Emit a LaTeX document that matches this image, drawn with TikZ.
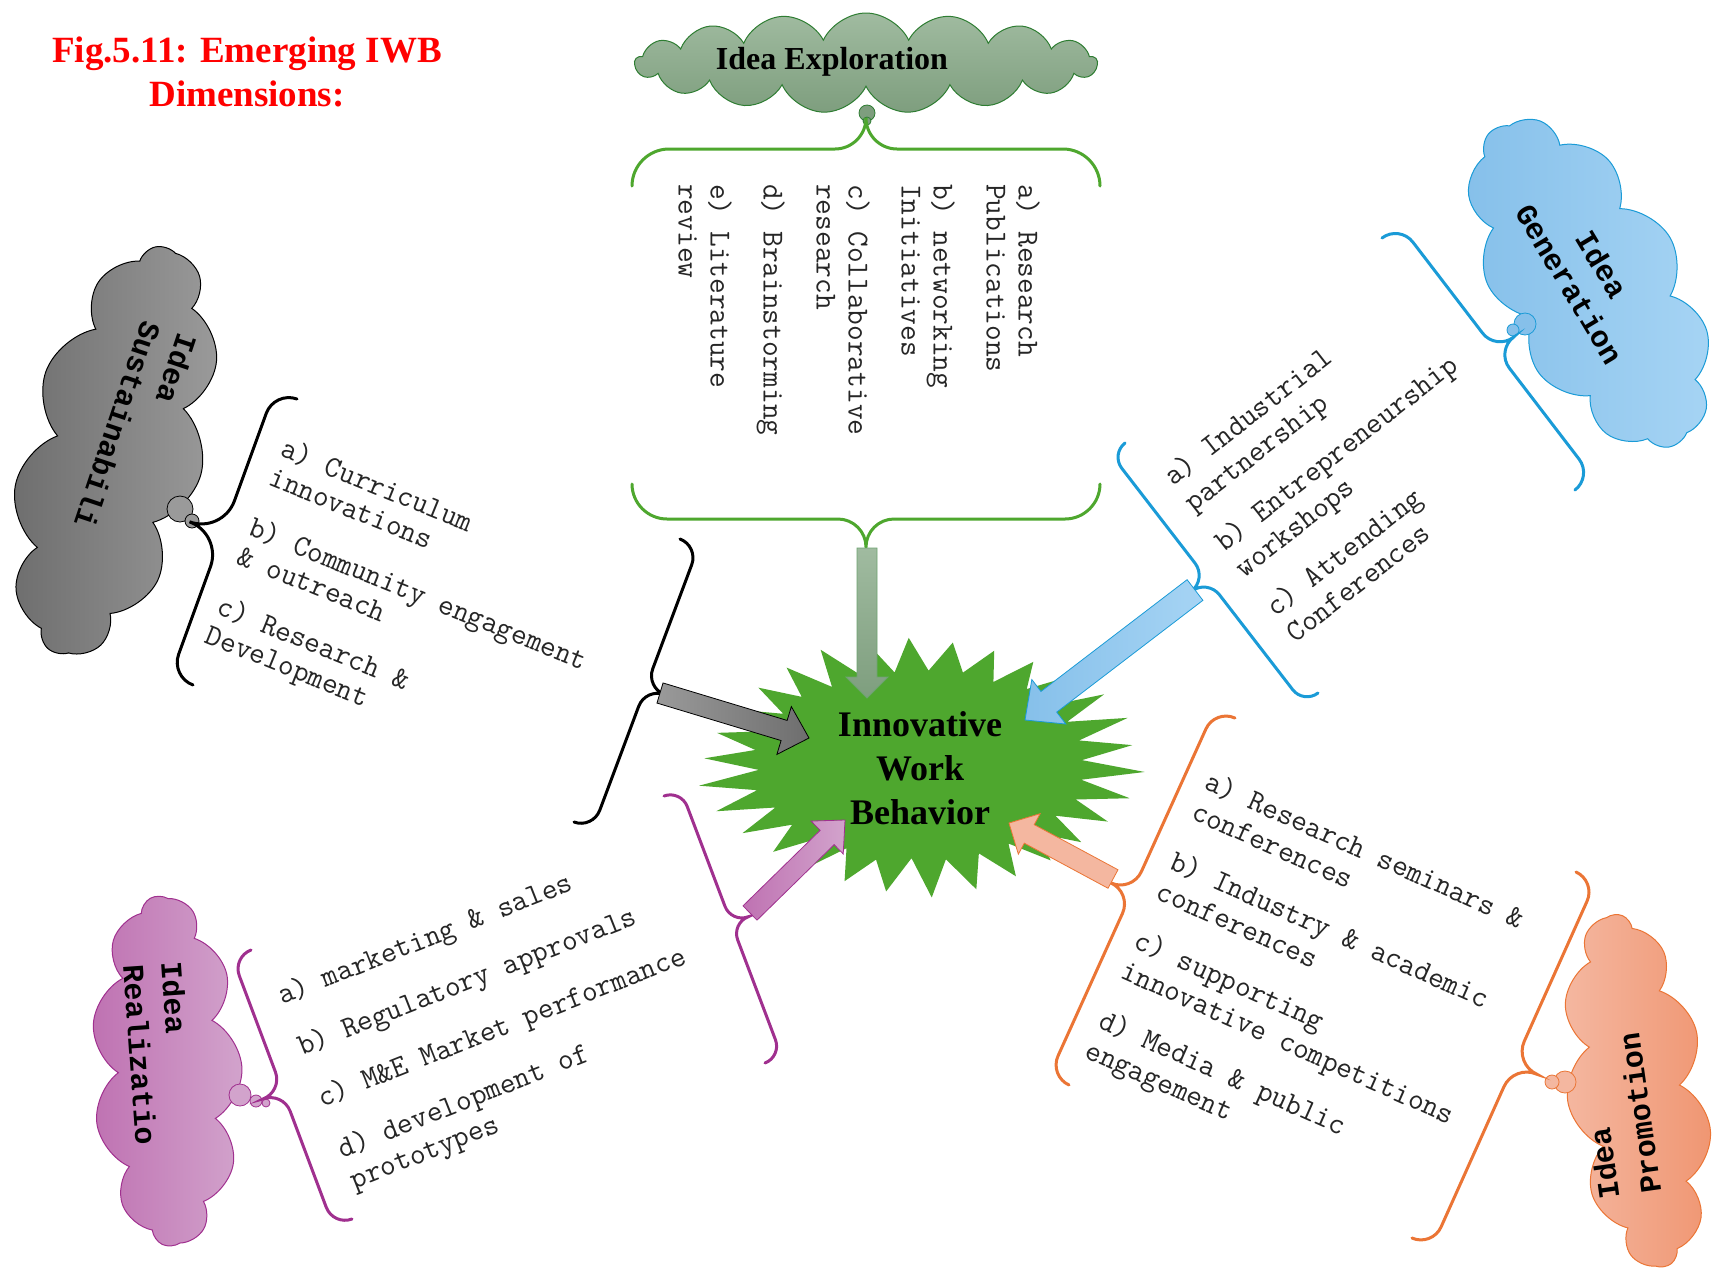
\documentclass[tikz,border=0pt]{standalone}
\usepackage{fontspec}
\setmainfont{Liberation Serif}
\newfontfamily\courb{Liberation Mono}
\usetikzlibrary{calc,shapes.symbols}

\definecolor{brgreen}{HTML}{4EA72E}
\definecolor{cldgreenA}{HTML}{A0BBA0}
\definecolor{cldgreenB}{HTML}{7E9E7E}
\definecolor{cldgreenD}{HTML}{2E7D32}
\definecolor{bluel}{HTML}{1A9BD7}
\definecolor{blueA}{HTML}{86C0EA}
\definecolor{blueB}{HTML}{A6D4F4}
\definecolor{purp}{HTML}{A0308F}
\definecolor{purpA}{HTML}{BF72B2}
\definecolor{purpB}{HTML}{D2A3CC}
\definecolor{orng}{HTML}{EB7535}
\definecolor{orngA}{HTML}{F4B7A0}
\definecolor{orngB}{HTML}{F09672}
\definecolor{grayA}{HTML}{6E6E6E}
\definecolor{grayB}{HTML}{9A9A9A}

\newcommand{\mybrace}[5]{%
\draw[#5] (#1)
 .. controls ($(#1)!{0.55*#3}!90:(#2)$) and ($(#1)!{0.45*#3}!(#2)!{#3}!90:(#2)$)
 .. ($(#1)!{#3}!(#2)!{#3}!90:(#2)$)
 -- ($(#1)!0.5!(#2)!{-#4}!(#2)!{#3}!90:(#2)$)
 .. controls ($(#1)!0.5!(#2)!{-0.45*#4}!(#2)!{#3}!90:(#2)$) and ($(#1)!0.5!(#2)!{#3+0.45*#4}!90:(#2)$)
 .. ($(#1)!0.5!(#2)!{#3+#4}!90:(#2)$)
 .. controls ($(#1)!0.5!(#2)!{#3+0.45*#4}!90:(#2)$) and ($(#1)!0.5!(#2)!{0.45*#4}!(#2)!{#3}!90:(#2)$)
 .. ($(#1)!0.5!(#2)!{#4}!(#2)!{#3}!90:(#2)$)
 -- ($(#2)!{#3}!(#1)!{#3}!-90:(#1)$)
 .. controls ($(#2)!{0.45*#3}!(#1)!{#3}!-90:(#1)$) and ($(#2)!{0.55*#3}!-90:(#1)$)
 .. (#2);}

\newcommand{\myarrow}[6]{%
\path[#6] ($(#1)!#3!90:(#2)$) -- ($(#2)!#5!(#1)!#3!-90:(#1)$) -- ($(#2)!#5!(#1)!#4!-90:(#1)$) -- (#2)
 -- ($(#2)!#5!(#1)!#4!90:(#1)$) -- ($(#2)!#5!(#1)!#3!90:(#1)$) -- ($(#1)!#3!-90:(#2)$) -- cycle;}

\begin{document}
\begin{tikzpicture}[x=1pt,y=-1pt,
  brc/.style={line width=3pt, line cap=round},
  listtxt/.style={font=\ttfamily\fontsize{30.5}{32}\selectfont, align=left, inner sep=0pt, anchor=north west, text=black!85},
  cldtxt/.style={font=\courb\bfseries\fontsize{30}{38}\selectfont, inner sep=0pt, text=black},
  cld/.style={cloud, cloud puffs=11, cloud puff arc=120, inner sep=0pt, line width=1pt},
  bub/.style={circle, inner sep=0pt, line width=0.8pt}
]
\path[use as bounding box, fill=white] (0,0) rectangle (1714,1270);

% title
\node[font=\bfseries\fontsize{37}{44}\selectfont, text=red, align=center] (title) at (247,72) {Fig.5.11: Emerging IWB\\Dimensions:};

% clouds
\node[cld, cloud puffs=17, cloud puff arc=130, aspect=4.5, minimum width=462pt, minimum height=100pt, draw=cldgreenD, top color=cldgreenA, bottom color=cldgreenB] (ecld) at (866,63) {};
\node[font=\bfseries\fontsize{32}{38}\selectfont] (etxt) at (832,62) {Idea Exploration};
\node[cld, aspect=2.3, minimum width=420pt, minimum height=180pt, rotate=-105, draw=black, left color=grayA, right color=grayB] (scld) at (114,451) {};
\node[cld, aspect=2, minimum width=365pt, minimum height=185pt, rotate=-60, draw=bluel, left color=blueA, right color=blueB] (gcld) at (1590,284) {};
\node[cld, aspect=2.3, minimum width=350pt, minimum height=150pt, rotate=-88, draw=purp, left color=purpA, right color=purpB] (rcld) at (167,1071) {};
\node[cld, aspect=2.5, minimum width=355pt, minimum height=140pt, rotate=98, draw=orng, left color=orngA, right color=orngB] (pcld) at (1637,1091) {};

% cloud labels
\node[cldtxt, rotate=-108.5, anchor=north west, align=left] (stxt) at (199,338) {Idea\\Sustainabili};
\node[cldtxt, rotate=-59, align=center] (gtxt) at (1586,274) {Idea\\Generation};
\node[cldtxt, rotate=-86, anchor=north west, align=left] (rtxt) at (183,961) {Idea\\Realizatio};
\node[cldtxt, rotate=98, anchor=north west, align=left, font=\courb\bfseries\fontsize{30}{42}\selectfont] (ptxt) at (1598,1201) {Idea\\Promotion};

% bubbles
\node[bub, minimum size=16pt, draw=cldgreenD, fill=cldgreenB] (eb1) at (867,113) {};
\node[bub, minimum size=8pt, draw=cldgreenD, fill=cldgreenB] (eb2) at (867,121) {};
\node[bub, minimum size=26pt, draw=black, fill=grayB] (sb1) at (180,509) {};
\node[bub, minimum size=14pt, draw=black, fill=grayB] (sb2) at (192,521) {};
\node[bub, minimum size=22pt, draw=bluel, fill=blueA] (gb1) at (1525,324) {};
\node[bub, minimum size=12pt, draw=bluel, fill=blueA] (gb2) at (1513,330) {};
\node[bub, minimum size=22pt, draw=purp, fill=purpB] (rb1) at (240,1095) {};
\node[bub, minimum size=12pt, draw=purp, fill=purpB] (rb2) at (256,1101) {};
\node[bub, minimum size=8pt, draw=purp, fill=purpB] (rb3) at (266,1103) {};
\node[bub, minimum size=22pt, draw=orng, fill=orngA] (pb1) at (1565,1082) {};
\node[bub, minimum size=14pt, draw=orng, fill=orngA] (pb2) at (1552,1082) {};

% brace end points
\coordinate (e1a) at (632,186); \coordinate (e1b) at (1100,186);
\coordinate (e2a) at (1100,484); \coordinate (e2b) at (632,484);
\coordinate (k1a) at (193,685); \coordinate (k1b) at (297,399);
\coordinate (k2a) at (680,539); \coordinate (k2b) at (574,822);
\coordinate (b1a) at (1382,238); \coordinate (b1b) at (1575,490);
\coordinate (b2a) at (1318,693); \coordinate (b2b) at (1125,443);
\coordinate (r1a) at (664,796); \coordinate (r1b) at (765,1063);
\coordinate (r2a) at (352,1219); \coordinate (r2b) at (251,950);
\coordinate (o1a) at (1069,1085); \coordinate (o1b) at (1235,718);
\coordinate (o2a) at (1576,872); \coordinate (o2b) at (1412,1238);

\mybrace{e1a}{e1b}{37pt}{31pt}{brc, draw=brgreen}
\mybrace{e2a}{e2b}{35pt}{28pt}{brc, draw=brgreen}
\mybrace{k1a}{k1b}{24pt}{35pt}{brc, draw=black}
\mybrace{k2a}{k2b}{20pt}{20pt}{brc, draw=black}
\mybrace{b1a}{b1b}{22pt}{22pt}{brc, draw=bluel}
\mybrace{b2a}{b2b}{18pt}{20pt}{brc, draw=bluel}
\mybrace{r1a}{r1b}{18pt}{18pt}{brc, draw=purp}
\mybrace{r2a}{r2b}{20pt}{21pt}{brc, draw=purp}
\mybrace{o1a}{o1b}{22pt}{23pt}{brc, draw=orng}
\mybrace{o2a}{o2b}{22pt}{25pt}{brc, draw=orng}

% starburst
\foreach \i in {0,...,59} {
  \pgfmathsetmacro\ang{\i*6+3}
  \pgfmathtruncatemacro\odd{mod(\i,2)}
  \ifnum\odd=0
    \pgfmathsetmacro\fj{1-0.08*abs(sin(\i*77))}
    \pgfmathsetmacro\ra{225*\fj}
    \pgfmathsetmacro\rb{133*\fj}
  \else
    \pgfmathsetmacro\fj{1-0.05*abs(sin(\i*53))}
    \pgfmathsetmacro\ra{170*\fj}
    \pgfmathsetmacro\rb{98*\fj}
  \fi
  \coordinate (st\i) at ($(920,765)+({\ra*cos(\ang)},{\rb*sin(\ang)})$);
}
\fill[brgreen] (st0) \foreach \i in {1,...,59} { -- (st\i) } -- cycle;

% block arrows
\coordinate (gaS) at (867,548); \coordinate (gaE) at (867,698);
\coordinate (kaS) at (660,693); \coordinate (kaE) at (809,738);
\coordinate (baS) at (1195,590); \coordinate (baE) at (1025,720);
\coordinate (oaS) at (1113,879); \coordinate (oaE) at (1009,823);
\coordinate (raS) at (750,913); \coordinate (raE) at (845,820);
\myarrow{gaS}{gaE}{10pt}{21pt}{21pt}{draw=cldgreenD!70, line width=0.8pt, top color=cldgreenA, bottom color=cldgreenB}
\myarrow{kaS}{kaE}{10.5pt}{25pt}{26pt}{draw=black, line width=0.8pt, left color=grayB, right color=grayA}
\myarrow{baS}{baE}{13pt}{28pt}{30pt}{draw=bluel, line width=0.8pt, left color=blueA, right color=blueB}
\myarrow{oaS}{oaE}{10.5pt}{23pt}{23pt}{draw=orng, line width=0.8pt, fill=orngA}
\myarrow{raS}{raE}{10pt}{23pt}{25pt}{draw=purp, line width=0.8pt, left color=purpA, right color=purpB}

% centre label
\node[font=\bfseries\fontsize{36}{44}\selectfont, align=center] (iwb) at (920,768) {Innovative\\Work\\Behavior};

% lists
\node[listtxt, rotate=-90] (elist) at (1040,184) {a) Research\\Publications\\[21pt]b) networking\\Initiatives\\[21pt]c) Collaborative\\research\\[21pt]d) Brainstorming\\[21pt]e) Literature\\review};
\node[listtxt, rotate=-22, font=\ttfamily\fontsize{30.5}{31}\selectfont] (slist) at (287,436) {a) Curriculum\\innovations\\[23pt]b) Community engagement\\\& outreach\\[23pt]c) Research \&\\Development};
\node[listtxt, rotate=38, font=\ttfamily\fontsize{30.5}{33}\selectfont] (glist) at (1160,470) {a) Industrial\\partnership\\[17pt]b) Entrepreneurship\\workshops\\[17pt]c) Attending\\Conferences};
\node[listtxt, rotate=21.5, font=\ttfamily\fontsize{30.5}{33}\selectfont] (rlist) at (274,985) {a) marketing \& sales\\[22pt]b) Regulatory approvals\\[22pt]c) M\&E Market performance\\[22pt]d) development of\\prototypes};
\node[listtxt, rotate=-24, font=\ttfamily\fontsize{30.5}{33}\selectfont] (plist) at (1212,769) {a) Research seminars \&\\conferences\\[21pt]b) Industry \& academic\\conferences\\[21pt]c) supporting\\innovative competitions\\[21pt]d) Media \& public\\engagement};
\end{tikzpicture}
\end{document}
